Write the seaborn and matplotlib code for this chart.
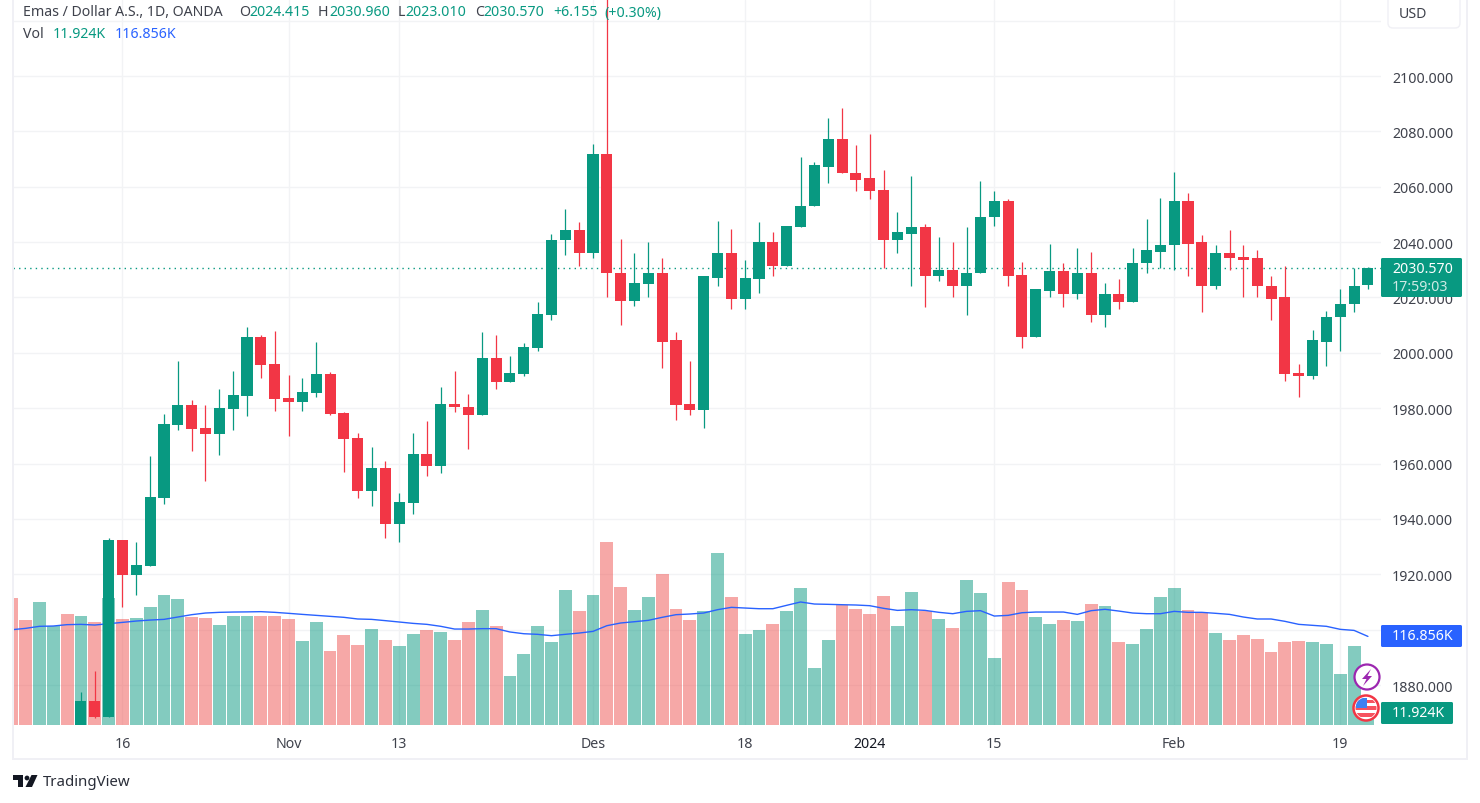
import numpy as np
import pandas as pd
import matplotlib
matplotlib.use("Agg")
import matplotlib.pyplot as plt
from matplotlib.patches import Circle, FancyBboxPatch, Polygon, Rectangle
import seaborn as sns

# candles start at bar 5, the first five bars only show volume
opens = [1860, 1874.3, 1868.5, 1932.4, 1919.8, 1923.0, 1947.6, 1974.0, 1981.2, 1972.9, 1970.7, 1979.8, 1984.5, 2005.8,
         1996.1, 1983.8, 1982.1, 1985.6, 1992.5, 1978.3, 1969.3, 1950.1, 1958.4, 1938.2, 1945.8, 1963.5, 1959.2, 1981.6,
         1980.6, 1977.4, 1998.3, 1989.6, 1992.5, 2001.9, 2013.8, 2040.6, 2044.2, 2035.9, 2072.0, 2029.0, 2018.9, 2025.0,
         2028.7, 2004.5, 1981.7, 1979.2, 2027.2, 2036.2, 2019.3, 2026.8, 2040.2, 2031.5, 2045.6, 2052.9, 2067.3, 2077.1,
         2065.1, 2063.0, 2059.0, 2040.9, 2043.1, 2045.6, 2027.6, 2030.1, 2024.0, 2028.7, 2048.9, 2054.7, 2028.3, 2005.9,
         2022.5, 2029.7, 2021.4, 2029.0, 2013.8, 2021.1, 2018.2, 2032.3, 2036.6, 2038.8, 2054.7, 2039.9, 2024.3, 2035.9,
         2034.8, 2034.1, 2024.3, 2020.0, 1992.9, 1991.8, 2004.1, 2012.8, 2017.5, 2024.415]
closes = [1874.3, 1868.5, 1932.4, 1919.8, 1923.4, 1948.0, 1974.3, 1981.2, 1972.5, 1970.7, 1980.1, 1984.9, 2005.8, 1995.7,
          1983.4, 1982.1, 1986.0, 1992.5, 1978.0, 1968.9, 1950.1, 1958.4, 1938.2, 1946.2, 1963.5, 1959.2, 1981.6, 1980.5,
          1977.4, 1998.3, 1989.6, 1992.9, 2002.3, 2014.2, 2040.9, 2044.2, 2035.9, 2072.0, 2028.7, 2018.9, 2025.4, 2028.7,
          2004.1, 1981.3, 1979.2, 2027.6, 2036.2, 2019.3, 2027.2, 2040.2, 2031.5, 2046.0, 2053.2, 2067.7, 2077.1, 2064.8,
          2062.6, 2058.6, 2040.9, 2043.5, 2045.6, 2027.6, 2030.1, 2024.0, 2029.0, 2049.2, 2054.7, 2027.9, 2005.9, 2022.9,
          2029.7, 2021.4, 2029.0, 2013.8, 2021.1, 2018.2, 2032.6, 2037.0, 2039.1, 2054.7, 2039.5, 2024.3, 2035.9, 2034.4,
          2033.7, 2024.0, 2019.6, 1992.5, 1991.8, 2004.5, 2013.1, 2017.8, 2024.3, 2030.57]
highs = [1877.4, 1885.1, 1933.2, 1932.4, 1931.7, 1962.8, 1978.0, 1997.2, 1983.0, 1981.2, 1987.0, 1993.5, 2009.4, 2006.5,
         2008.0, 1992.1, 1991.0, 2004.0, 1993.2, 1978.7, 1971.1, 1966.0, 1961.0, 1949.4, 1971.1, 1975.4, 1987.8, 1993.5,
         1985.3, 2007.7, 2006.3, 1998.7, 2003.7, 2018.2, 2043.1, 2052.1, 2047.1, 2075.3, 2130.0, 2041.3, 2035.9, 2039.9,
         2034.1, 2007.7, 1996.9, 2027.9, 2047.8, 2044.9, 2033.7, 2047.1, 2043.5, 2046.0, 2070.6, 2069.1, 2084.9, 2088.5,
         2074.9, 2078.9, 2065.9, 2051.0, 2064.0, 2046.7, 2042.0, 2040.2, 2045.3, 2062.2, 2058.6, 2055.7, 2033.0, 2023.2,
         2039.5, 2032.3, 2038.0, 2036.6, 2025.4, 2026.8, 2037.7, 2048.5, 2056.1, 2065.5, 2057.6, 2042.4, 2038.8, 2044.5,
         2038.8, 2037.3, 2027.6, 2031.5, 1996.1, 2008.4, 2015.3, 2022.9, 2030.8, 2030.96]
lows = [1858, 1868.1, 1868.5, 1908.2, 1912.6, 1923.0, 1945.4, 1972.2, 1964.6, 1953.8, 1963.1, 1972.2, 1977.2, 1991.0,
        1979.0, 1970.0, 1979.0, 1984.0, 1977.6, 1957.0, 1947.6, 1944.7, 1933.2, 1931.7, 1941.8, 1955.6, 1956.6, 1978.7,
        1965.4, 1977.4, 1986.8, 1989.6, 1991.5, 2000.5, 2011.7, 2035.2, 2031.5, 2034.1, 2020.0, 2009.9, 2017.1, 2020.3,
        1994.7, 1975.9, 1977.4, 1973.0, 2024.3, 2015.7, 2016.0, 2021.8, 2027.6, 2031.5, 2045.6, 2052.9, 2061.5, 2064.8,
        2058.3, 2055.7, 2030.8, 2036.2, 2024.3, 2016.7, 2026.1, 2020.3, 2013.5, 2028.7, 2046.0, 2024.3, 2001.9, 2005.9,
        2020.3, 2016.7, 2019.6, 2011.3, 2009.5, 2016.0, 2018.2, 2029.0, 2030.8, 2030.1, 2027.9, 2014.9, 2022.9, 2030.1,
        2020.3, 2020.3, 2012.0, 1990.0, 1984.2, 1990.4, 1995.1, 2000.5, 2014.9, 2023.01]

# volume in thousands, one per bar
volume = [168.1, 139.0, 162.8, 131.0, 146.9, 144.3, 136.3, 168.1, 140.3, 141.6, 156.2, 172.1, 166.8, 142.9, 141.6, 132.4,
          144.3, 144.3, 144.3, 144.3, 140.3, 111.2, 136.3, 97.9, 119.1, 105.9, 127.1, 112.5, 104.6, 120.4, 125.7, 123.1,
          112.5, 136.3, 152.2, 131.0, 64.9, 94.0, 131.0, 109.9, 178.7, 150.9, 172.1, 242.2, 182.7, 152.2, 169.4, 199.9,
          153.5, 139.0, 150.9, 227.7, 169.4, 120.4, 125.7, 133.7, 150.9, 181.3, 75.4, 112.5, 158.8, 153.5, 146.9, 170.7,
          131.0, 176.0, 150.9, 140.3, 128.4, 191.9, 174.7, 88.7, 189.3, 178.7, 142.9, 133.7, 139.0, 137.7, 160.2, 157.5,
          109.9, 107.2, 127.1, 169.4, 181.3, 152.2, 148.2, 121.8, 112.5, 119.1, 113.8, 96.6, 109.9, 111.2, 109.9, 107.2,
          67.5, 104.6, 11.924]
volume_ma = [125.7, 127.5, 130.2, 130.6, 132.4, 132.8, 131.9, 133.7, 135.4, 137.2, 138.5, 139.4, 142.5, 145.6, 147.8,
             148.7, 149.1, 149.3, 149.6, 148.7, 147.4, 146.0, 144.7, 143.4, 142.1, 139.9, 139.4, 137.7, 135.9, 134.1,
             132.8, 130.2, 126.6, 126.6, 127.1, 127.1, 122.7, 120.4, 119.6, 117.8, 119.6, 121.3, 123.5, 131.0, 134.6,
             136.3, 138.1, 142.1, 145.6, 146.5, 147.8, 152.2, 155.3, 154.4, 153.5, 153.5, 158.0, 162.4, 159.7, 159.3,
             158.8, 158.4, 157.5, 154.0, 151.3, 152.2, 151.3, 148.7, 146.9, 150.0, 150.9, 143.8, 144.7, 148.2, 149.1,
             149.1, 149.1, 146.0, 150.9, 152.7, 150.4, 147.8, 146.9, 146.9, 150.0, 148.7, 148.7, 147.4, 146.0, 142.5,
             139.9, 139.9, 136.8, 132.8, 131.5, 130.2, 126.2, 124.8, 116.856]
first_bars_dir = ["down", "down", "up", "up", "down"]

date_ticks = [8, 20, 28, 42, 53, 62, 71, 84, 96]
date_labels = ["16", "Nov", "13", "Des", "18", "2024", "15", "Feb", "19"]
price_ticks = list(range(1880, 2121, 20))
price_labels = [f"{p}.000" if p < 2120 else "" for p in price_ticks]
last_price = 2030.57

GREEN = "#089981"
RED = "#f23645"
VOL_RED = "#ef5350"
BLUE = "#2962ff"
GRID = "#f2f3f5"
FRAME = "#f0f0f5"
TEXT = "#3f424c"

sns.set_theme(style="white")
plt.rcParams["font.family"] = ["Noto Sans", "DejaVu Sans"]

candle_dir = ["up" if c >= o else "down" for o, c in zip(opens, closes)]
df_vol = pd.DataFrame({"bar": np.arange(len(volume)), "vol": volume, "ma": volume_ma,
                       "dir": first_bars_dir + candle_dir})
df = pd.DataFrame({"bar": np.arange(5, len(volume)), "o": opens, "h": highs, "l": lows, "c": closes, "dir": candle_dir})
df["top"] = df[["o", "c"]].max(axis=1)
df["bot"] = df[["o", "c"]].min(axis=1)

fig = plt.figure(figsize=(14.8, 8.04), dpi=100, facecolor="white")
rect = [13 / 1480, 78.3 / 804, 1368 / 1480, 725 / 804]
xlim = (0.09, 98.945)
ylim = (1865.7, 2127.56)

# grid and axis labels at the back
ax_bg = fig.add_axes(rect, zorder=1)
ax_bg.set_xlim(xlim)
ax_bg.set_ylim(ylim)
ax_bg.set_xticks(date_ticks, date_labels)
ax_bg.set_yticks(price_ticks, price_labels)
ax_bg.yaxis.tick_right()
ax_bg.grid(True, color=GRID, lw=1)
ax_bg.tick_params(axis="x", length=0, pad=8, labelsize=10.2, labelcolor=TEXT)
ax_bg.tick_params(axis="y", length=0, pad=8, labelsize=10.2, labelcolor=TEXT)
for t in ax_bg.get_xticklabels():
    if t.get_text() == "2024":
        t.set_fontweight("bold")
        t.set_color("#131722")
sns.despine(ax=ax_bg, left=True, bottom=True, right=True, top=True)

# volume
ax_vol = fig.add_axes(rect, zorder=2)
ax_vol.patch.set_visible(False)
sns.barplot(data=df_vol, x="bar", y="vol", hue="dir", palette={"up": GREEN, "down": VOL_RED}, native_scale=True,
            dodge=False, width=0.93, alpha=0.5, saturation=1, linewidth=0, legend=False, errorbar=None, ax=ax_vol)
sns.lineplot(data=df_vol, x="bar", y="ma", color=BLUE, lw=1, ax=ax_vol)
ax_vol.set_xlim(xlim)
ax_vol.set_ylim(0, 959.5)
ax_vol.axis("off")

# candles
ax = fig.add_axes(rect, zorder=3)
ax.patch.set_visible(False)
ax.axhline(last_price, color=GREEN, lw=1, ls=(0, (1, 3)), zorder=1)
for d, col in [("up", GREEN), ("down", RED)]:
    part = df[df["dir"] == d]
    ax.vlines(part["bar"], part["l"], part["h"], color=col, lw=0.9, zorder=2)
    ax.bar(part["bar"], part["top"] - part["bot"], bottom=part["bot"], width=0.8, color=col, linewidth=0, zorder=3)
ax.set_xlim(xlim)
ax.set_ylim(ylim)
ax.axis("off")

# labels, frame and logo, in pixels of the picture
top = fig.add_axes([0, 0, 1, 1], zorder=4)
top.set_xlim(0, 1480)
top.set_ylim(804, 0)
top.axis("off")
top.patch.set_visible(False)

FS = 10.2
for x, s, c in [(23, "Emas / Dollar A.S., 1D, OANDA", TEXT), (239, "O", TEXT), (249, "2024.415", GREEN), (318, "H", TEXT),
                (329, "2030.960", GREEN), (398, "L", TEXT), (405, "2023.010", GREEN), (475, "C", TEXT),
                (483, "2030.570", GREEN), (553, "+6.155", GREEN), (604, "(+0.30%)", GREEN)]:
    top.text(x, 13, s, color=c, fontsize=FS, va="center", ha="left")
for x, s, c in [(23, "Vol", TEXT), (53, "11.924K", GREEN), (115, "116.856K", BLUE)]:
    top.text(x, 34, s, color=c, fontsize=FS, va="center", ha="left")

# frame
top.add_patch(Rectangle((12, 0), 2, 760, color=FRAME, lw=0))
top.add_patch(Rectangle((12, 759), 1456, 2, color=FRAME, lw=0))
top.add_patch(Rectangle((1466, 0), 2, 761, color=FRAME, lw=0))

# currency box
top.add_patch(FancyBboxPatch((1388, -10), 72, 39, boxstyle="round,pad=0,rounding_size=5", fc="white", ec=FRAME, lw=1))
top.text(1399, 14, "USD", color=TEXT, fontsize=FS, va="center", ha="left")

# last value labels
top.add_patch(FancyBboxPatch((1381, 259), 81, 39, boxstyle="round,pad=0,rounding_size=1.5", fc=GREEN, ec="none"))
top.text(1392, 270, "2030.570", color="white", fontsize=FS, fontweight="bold", va="center", ha="left")
top.text(1392, 288, "17:59:03", color="#cfeae5", fontsize=FS, va="center", ha="left")
top.add_patch(FancyBboxPatch((1381, 626), 81, 22, boxstyle="round,pad=0,rounding_size=1.5", fc=BLUE, ec="none"))
top.text(1392, 637, "116.856K", color="white", fontsize=FS, fontweight="bold", va="center", ha="left")
top.add_patch(FancyBboxPatch((1381, 703), 72, 22, boxstyle="round,pad=0,rounding_size=1.5", fc=GREEN, ec="none"))
top.text(1392, 714, "11.924K", color="white", fontsize=FS, fontweight="bold", va="center", ha="left")

# event icons
top.add_patch(Circle((1367, 678), 12.5, fc="white", ec="#9c27b0", lw=1.6))
top.add_patch(Polygon([(1371, 670), (1362, 680), (1366.5, 680), (1363, 687), (1372, 677), (1367.5, 677)], color="#9c27b0", lw=0))
flag = Circle((1366, 709), 12.5, fc="white", ec=RED, lw=1.8)
top.add_patch(flag)
for y in [(701, 3), (707, 4), (714, 4)]:
    st = Rectangle((1355, y[0]), 22, y[1], color="#f7525f", lw=0)
    top.add_patch(st)
    st.set_clip_path(Circle((1366, 709), 10.5, transform=top.transData))
canton = Rectangle((1356, 699), 10.5, 9.5, color="#3d80f2", lw=0)
top.add_patch(canton)
canton.set_clip_path(Circle((1366, 709), 10.5, transform=top.transData))

# logo
LOGO = "#131722"
top.add_patch(Polygon([(13, 776), (23, 776), (23, 788), (18, 788), (18, 781), (13, 781)], color=LOGO, lw=0))
top.add_patch(Circle((27, 779), 2.4, color=LOGO, lw=0))
top.add_patch(Polygon([(31.5, 776), (37.5, 776), (32, 788), (25.5, 788)], color=LOGO, lw=0))
top.text(42.5, 783, "TradingView", color="#2a2e39", fontsize=10.8, va="center", ha="left")

fig.savefig("out.png", dpi=100, facecolor="white")
